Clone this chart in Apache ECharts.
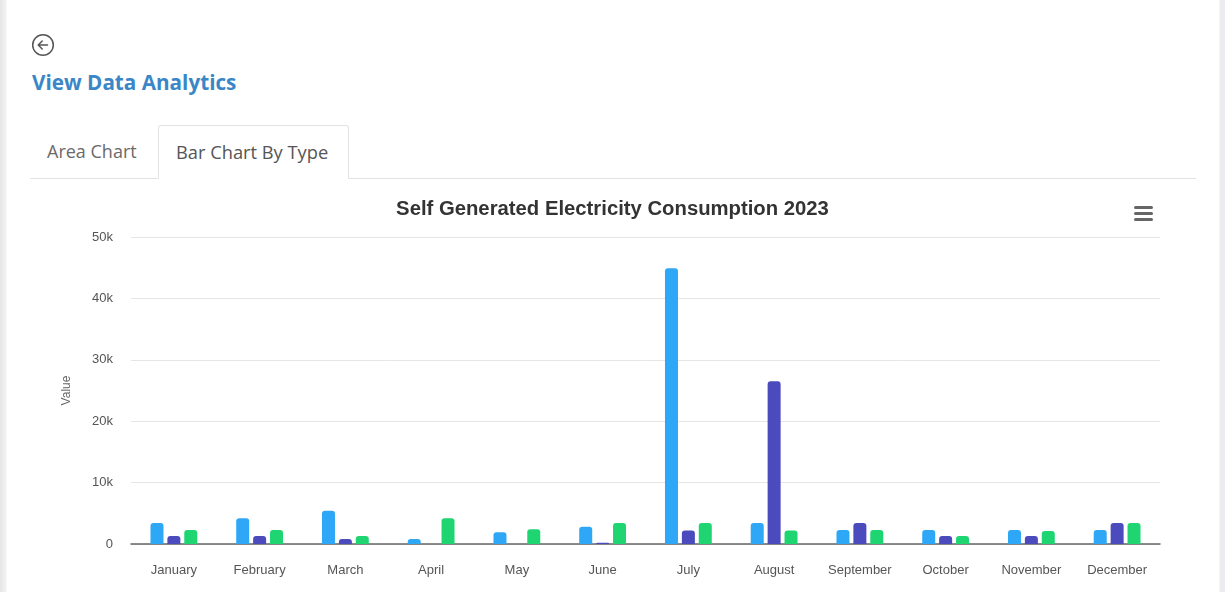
<!DOCTYPE html>
<html>
<head>
<meta charset="utf-8">
<script src="https://cdn.jsdelivr.net/npm/echarts@6/dist/echarts.min.js"></script>
<style>
  html, body { margin: 0; padding: 0; width: 1225px; height: 592px; overflow: hidden; background: #fff; }
  .page { position: absolute; left: 0; top: 0; width: 1225px; height: 592px;
          background: linear-gradient(to right, #e6e6e6 0px, #f2f2f2 6px, #fff 7px, #fff 1219px, #ececf0 1220px); }
  .back { position: absolute; left: 31px; top: 33px; width: 24px; height: 24px; }
  .heading { position: absolute; left: 32px; top: 68px; font-family: "Open Sans", sans-serif; font-weight: 700;
             font-size: 20.7px; color: #3b86c6; }
  .tabline { position: absolute; left: 30px; top: 178px; width: 1166px; height: 1px; background: #e3e3e3; }
  .tab { position: absolute; font-family: "Open Sans", sans-serif; font-size: 18px; }
  .tab1 { left: 47px; top: 139px; color: #6a6a6a; }
  .tab2 { left: 158px; top: 125px; width: 191px; height: 54px; border: 1px solid #e3e3e3; border-bottom: 1px solid #fff;
          border-radius: 3px 3px 0 0; background: #fff; box-sizing: border-box; color: #555; }
  .tab2 span { position: absolute; left: 17px; top: 13px; white-space: nowrap; font-size: 18.3px; }
  #chart { position: absolute; left: 0; top: 180px; width: 1225px; height: 412px; }
</style>
</head>
<body>
<div class="page"></div>
<svg class="back" viewBox="0 0 24 24">
  <circle cx="12" cy="12" r="10.3" fill="none" stroke="#555" stroke-width="1.5"/>
  <path d="M16.5 12 H7.5 M11.2 8 L7.2 12 L11.2 16" fill="none" stroke="#555" stroke-width="1.5" stroke-linecap="round" stroke-linejoin="round"/>
</svg>
<div class="heading">View Data Analytics</div>
<div class="tabline"></div>
<div class="tab tab1">Area Chart</div>
<div class="tab tab2"><span>Bar Chart By Type</span></div>
<div id="chart"></div>
<script>
// Monthly self generated electricity consumption, three source types
const months = ['January', 'February', 'March', 'April', 'May', 'June',
                'July', 'August', 'September', 'October', 'November', 'December'];
const typeA = [3400, 4200, 5400, 800, 1900, 2800, 44900, 3400, 2300, 2300, 2300, 2300];
const typeB = [1300, 1300, 800, 0, 0, 200, 2200, 26500, 3400, 1300, 1300, 3400];
const typeC = [2300, 2300, 1300, 4200, 2400, 3400, 3400, 2200, 2300, 1300, 2100, 3400];
const yTicks = [0, 10000, 20000, 30000, 40000, 50000];

const colors = ['#2ea7f6', '#4b4bbd', '#1fd572'];
const font = 'Liberation Sans, Arial, sans-serif';

const chart = echarts.init(document.getElementById('chart'), null, { renderer: 'canvas' });

function barSeries(name, data, color) {
  return {
    name: name,
    type: 'bar',
    data: data,
    barWidth: 13,
    barGap: '30%',
    itemStyle: { color: color, borderRadius: [3, 3, 0, 0] }
  };
}

chart.setOption({
  animation: false,
  title: {
    text: 'Self Generated Electricity Consumption 2023',
    left: 'center',
    top: 14,
    textStyle: { fontFamily: font, fontSize: 20.3, fontWeight: 'bold', color: '#333' }
  },
  graphic: [{
    type: 'group', left: 1134, top: 26,
    children: [0, 6, 12].map(function (y) {
      return { type: 'rect', shape: { x: 0, y: y, width: 19, height: 3, r: 1.5 }, style: { fill: '#666' } };
    })
  }],
  grid: { left: 131, right: 65, top: 57, bottom: 48, containLabel: false },
  xAxis: {
    type: 'category',
    data: months,
    axisLine: { lineStyle: { color: '#666', width: 1.5 } },
    axisTick: { show: false },
    axisLabel: { color: '#555', fontFamily: font, fontSize: 13, margin: 20 }
  },
  yAxis: {
    type: 'value',
    min: yTicks[0],
    max: yTicks[yTicks.length - 1],
    interval: yTicks[1] - yTicks[0],
    name: 'Value',
    nameLocation: 'middle',
    nameGap: 58,
    nameTextStyle: { color: '#666', fontFamily: font, fontSize: 12 },
    axisLine: { show: false },
    axisTick: { show: false },
    splitLine: { lineStyle: { color: '#e6e6e6' } },
    axisLabel: {
      color: '#555', fontFamily: font, fontSize: 13, margin: 18,
      formatter: function (v) { return v === 0 ? '0' : (v / 1000) + 'k'; }
    }
  },
  series: [
    barSeries('Type 1', typeA, colors[0]),
    barSeries('Type 2', typeB, colors[1]),
    barSeries('Type 3', typeC, colors[2])
  ]
});
</script>
</body>
</html>
